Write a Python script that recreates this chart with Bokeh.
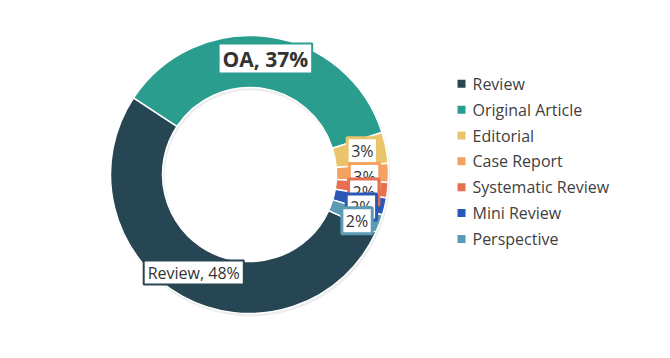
import math
from bokeh.plotting import figure
from bokeh.models import Range1d, Label, ColumnDataSource
from bokeh.core.properties import value
from bokeh.embed import file_html
from bokeh.resources import INLINE

# ---- data ----
categories = ["Review", "Original Article", "Editorial", "Case Report",
              "Systematic Review", "Mini Review", "Perspective"]
shares = [52.5, 35.8, 3.6, 2.2, 1.8, 2.0, 2.1]          # slice sizes
label_texts = ["Review, 48%", "OA, 37%", "3%", "3%", "2%", "2%", "2%"]
colors = ["#264653", "#2a9d8f", "#e9c46a", "#f4a261", "#e76f51", "#2b57b8", "#5b9cb4"]

# ---- layout ----
W, H = 670, 358
CX, CY = 249, 184          # pie centre (data px, y up)
R_OUT, R_IN = 139, 87
START_DEG = -24.5          # where the first slice begins
FONT = "Open Sans"
LABEL_R = 115
# small vertical spreading of crowded data labels (px, downwards)
label_shift = [-2.5, -2, -1.5, 3.5, 4.5, 6, 5.5]

p = figure(width=W, height=H, output_backend="svg", toolbar_location=None,
           x_range=Range1d(0, W), y_range=Range1d(0, H), min_border=0)
p.axis.visible = False
p.grid.visible = False
p.outline_line_color = None
p.background_fill_color = "white"

total = sum(shares)
starts, ends = [], []
acc = 0.0
for v in shares:
    s = math.radians(START_DEG) - acc / total * 2 * math.pi
    e = s - v / total * 2 * math.pi
    starts.append(s)
    ends.append(e)
    acc += v

# soft shadow
p.annular_wedge(x=CX + 1, y=CY - 2, inner_radius=R_IN - 1, outer_radius=R_OUT + 1,
                start_angle=0, end_angle=2 * math.pi, fill_color="#000000",
                fill_alpha=0.07, line_color=None)

src = ColumnDataSource(dict(start=starts, end=ends, color=colors, cat=categories))
p.annular_wedge(x=CX, y=CY, inner_radius=R_IN, outer_radius=R_OUT,
                start_angle="start", end_angle="end", direction="clock",
                fill_color="color", line_color="white", line_width=1.5, source=src)

# data labels
for i, (txt, col) in enumerate(zip(label_texts, colors)):
    mid = (starts[i] + ends[i]) / 2
    lx = CX + LABEL_R * math.cos(mid)
    ly = CY + LABEL_R * math.sin(mid) - label_shift[i]
    big = i < 2
    lab = Label(x=lx, y=ly, text=txt, text_align="center", text_baseline="middle",
                text_font=FONT, text_font_size="21px" if i == 1 else "16px",
                text_font_style="bold" if i == 1 else "normal",
                text_color="#333333", background_fill_color="white",
                border_line_color=col, border_line_width=2 if big else 3,
                padding=dict(x=4, y=1) if big else dict(x=4, y=2))
    p.add_layout(lab)

# legend
LX, LY0, LSTEP = 461, H - 83.3, 25.85
ly = [LY0 - i * LSTEP for i in range(len(categories))]
p.scatter(x=[LX] * len(categories), y=ly, marker="square", size=8,
          fill_color=colors, line_color=None)
p.text(x=[LX + 11] * len(categories), y=ly, text=categories,
       text_font=value(FONT), text_font_size="16px", text_color="#404040",
       text_align="left", text_baseline="middle")

open("out.html", "w").write(file_html(p, INLINE))
